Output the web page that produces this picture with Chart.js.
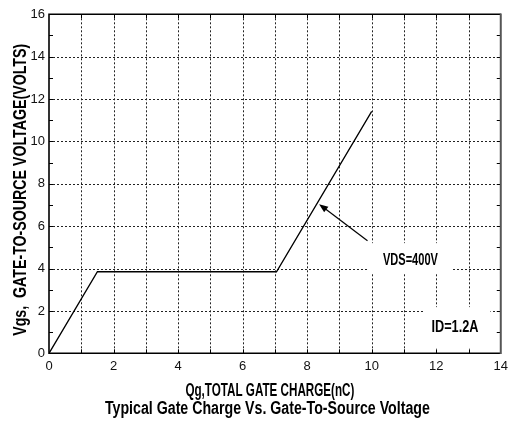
<!DOCTYPE html>
<html>
<head>
<meta charset="utf-8">
<script src="https://cdn.jsdelivr.net/npm/chart.js@4/dist/chart.umd.min.js"></script>
<style>
  html, body { margin: 0; padding: 0; background: #fff; }
  #wrap { width: 513px; height: 421px; position: relative; }
</style>
</head>
<body>
<div id="wrap"><canvas id="c" width="513" height="421"></canvas></div>
<script>
// ---- data ----
const qg = [0, 1.5, 7.05, 10.0];          // nC
const vgs = [0, 3.85, 3.85, 11.42];       // V
const xTickLabels = [0, 2, 4, 6, 8, 10, 12, 14];
const yTickLabels = [0, 2, 4, 6, 8, 10, 12, 14, 16];
const xGridValues = [1, 2, 3, 4, 5, 6, 7, 8, 9, 10, 11, 12, 13];
const yGridValues = [2, 4, 6, 8, 10, 12, 14];
const arrowFrom = [9.87, 5.31];
const arrowTo = [8.37, 7.04];
const vdsLabel = "VDS=400V";
const idLabel = "ID=1.2A";
const xTitle = "Qg,TOTAL GATE CHARGE(nC)";
const subTitle = "Typical Gate Charge Vs. Gate-To-Source Voltage";
const yTitle = "Vgs,  GATE-TO-SOURCE VOLTAGE(VOLTS)";

const TXT_FONT = '"Liberation Sans Narrow", "Liberation Sans", sans-serif';

function drawFit(ctx, text, cx, cy, width, size, rot) {
  ctx.save();
  ctx.font = 'bold ' + size + 'px ' + TXT_FONT;
  const w = ctx.measureText(text).width;
  ctx.translate(cx, cy);
  if (rot) ctx.rotate(rot);
  ctx.scale(width / w, 1);
  ctx.fillStyle = '#000';
  ctx.textAlign = 'center';
  ctx.textBaseline = 'middle';
  ctx.fillText(text, 0, 0);
  ctx.restore();
}

const gridPlugin = {
  id: 'gridPlugin',
  beforeDatasetsDraw(chart) {
    const ctx = chart.ctx;
    const xs = chart.scales.x, ys = chart.scales.y;
    const a = chart.chartArea;
    ctx.save();
    ctx.strokeStyle = '#222';
    ctx.lineWidth = 1;
    ctx.setLineDash([2, 2]);
    ctx.beginPath();
    xGridValues.forEach(v => {
      const px = Math.round(xs.getPixelForValue(v)) + 0.5;
      ctx.moveTo(px, a.top); ctx.lineTo(px, a.bottom);
    });
    yGridValues.forEach(v => {
      const py = Math.round(ys.getPixelForValue(v)) + 0.5;
      ctx.moveTo(a.left, py); ctx.lineTo(a.right, py);
    });
    ctx.stroke();
    ctx.restore();
  }
};

const decor = {
  id: 'decor',
  afterDatasetsDraw(chart) {
    const ctx = chart.ctx;
    const xs = chart.scales.x, ys = chart.scales.y;
    const a = chart.chartArea;
    // white label boxes
    ctx.save();
    ctx.fillStyle = '#fff';
    let x1 = xs.getPixelForValue(9.91), x2 = xs.getPixelForValue(12.52);
    let y1 = ys.getPixelForValue(5.2), y2 = ys.getPixelForValue(3.79);
    ctx.fillRect(x1, y1, x2 - x1, y2 - y1);
    x1 = xs.getPixelForValue(11.6); x2 = xs.getPixelForValue(13.68);
    y1 = ys.getPixelForValue(2.18); y2 = ys.getPixelForValue(0.25);
    ctx.fillRect(x1, y1, x2 - x1, y2 - y1);
    ctx.restore();

    // inward tick marks
    ctx.save();
    ctx.strokeStyle = '#000';
    ctx.lineWidth = 1;
    ctx.beginPath();
    for (let v = 1; v < 14; v++) {
      const px = Math.round(xs.getPixelForValue(v)) + 0.5;
      ctx.moveTo(px, a.top); ctx.lineTo(px, a.top + 4);
      ctx.moveTo(px, a.bottom); ctx.lineTo(px, a.bottom - 4);
    }
    for (let v = 1; v < 16; v++) {
      const py = Math.round(ys.getPixelForValue(v)) + 0.5;
      ctx.moveTo(a.left, py); ctx.lineTo(a.left + 4, py);
      ctx.moveTo(a.right, py); ctx.lineTo(a.right - 4, py);
    }
    ctx.stroke();
    // frame
    ctx.lineWidth = 1.6;
    ctx.beginPath();
    ctx.moveTo(a.right, a.top); ctx.lineTo(a.left, a.top);
    ctx.lineTo(a.left, a.bottom); ctx.lineTo(a.right, a.bottom);
    ctx.stroke();
    ctx.strokeStyle = '#555';
    ctx.lineWidth = 2;
    ctx.beginPath();
    ctx.moveTo(a.right, a.top - 0.8); ctx.lineTo(a.right, a.bottom + 0.8);
    ctx.stroke();
    ctx.restore();

    // arrow
    const fx = xs.getPixelForValue(arrowFrom[0]), fy = ys.getPixelForValue(arrowFrom[1]);
    const tx = xs.getPixelForValue(arrowTo[0]), ty = ys.getPixelForValue(arrowTo[1]);
    const ang = Math.atan2(ty - fy, tx - fx);
    ctx.save();
    ctx.strokeStyle = '#000';
    ctx.fillStyle = '#000';
    ctx.lineWidth = 1.2;
    ctx.beginPath();
    ctx.moveTo(fx, fy);
    ctx.lineTo(tx - 6 * Math.cos(ang), ty - 6 * Math.sin(ang));
    ctx.stroke();
    ctx.beginPath();
    ctx.moveTo(tx, ty);
    ctx.lineTo(tx - 9 * Math.cos(ang) + 3.5 * Math.sin(ang), ty - 9 * Math.sin(ang) - 3.5 * Math.cos(ang));
    ctx.lineTo(tx - 9 * Math.cos(ang) - 3.5 * Math.sin(ang), ty - 9 * Math.sin(ang) + 3.5 * Math.cos(ang));
    ctx.closePath();
    ctx.fill();
    ctx.restore();

    // annotation texts
    drawFit(ctx, vdsLabel, xs.getPixelForValue(11.2), ys.getPixelForValue(4.4), 55, 17, 0);
    drawFit(ctx, idLabel, xs.getPixelForValue(12.58), ys.getPixelForValue(1.19), 47, 16, 0);

    // axis titles
    const cxp = (a.left + a.right) / 2;
    drawFit(ctx, xTitle, cxp - 5, a.bottom + 38, 169, 18, 0);
    drawFit(ctx, subTitle, cxp - 7.5, a.bottom + 55.5, 325, 18, 0);
    drawFit(ctx, yTitle, 21, (a.top + a.bottom) / 2 + 6, 292, 18, -Math.PI / 2);
  }
};

new Chart(document.getElementById('c'), {
  type: 'line',
  data: {
    datasets: [{
      data: qg.map((x, i) => ({ x: x, y: vgs[i] })),
      borderColor: '#000',
      borderWidth: 1.3,
      pointRadius: 0,
      fill: false,
      tension: 0
    }]
  },
  options: {
    responsive: false,
    animation: false,
    events: [],
    layout: { padding: { left: 0, right: 7.5, top: 14.3, bottom: 0 } },
    plugins: { legend: { display: false }, tooltip: { enabled: false } },
    scales: {
      x: {
        type: 'linear', min: 0, max: 14,
        afterFit(s) { s.height = 67.7; },
        afterBuildTicks(s) { s.ticks = xTickLabels.map(v => ({ value: v })); },
        ticks: {
          autoSkip: false, maxRotation: 0, padding: 5,
          color: '#111',
          font: { family: '"Liberation Sans", Arial, sans-serif', size: 13 }
        },
        grid: { display: false, drawTicks: false },
        border: { display: false }
      },
      y: {
        type: 'linear', min: 0, max: 16,
        afterFit(s) { s.width = 49; },
        afterBuildTicks(s) { s.ticks = yTickLabels.map(v => ({ value: v })); },
        ticks: {
          autoSkip: false, padding: 4,
          color: '#111',
          font: { family: '"Liberation Sans", Arial, sans-serif', size: 13 }
        },
        grid: { display: false, drawTicks: false },
        border: { display: false }
      }
    }
  },
  plugins: [gridPlugin, decor]
});
</script>
</body>
</html>
